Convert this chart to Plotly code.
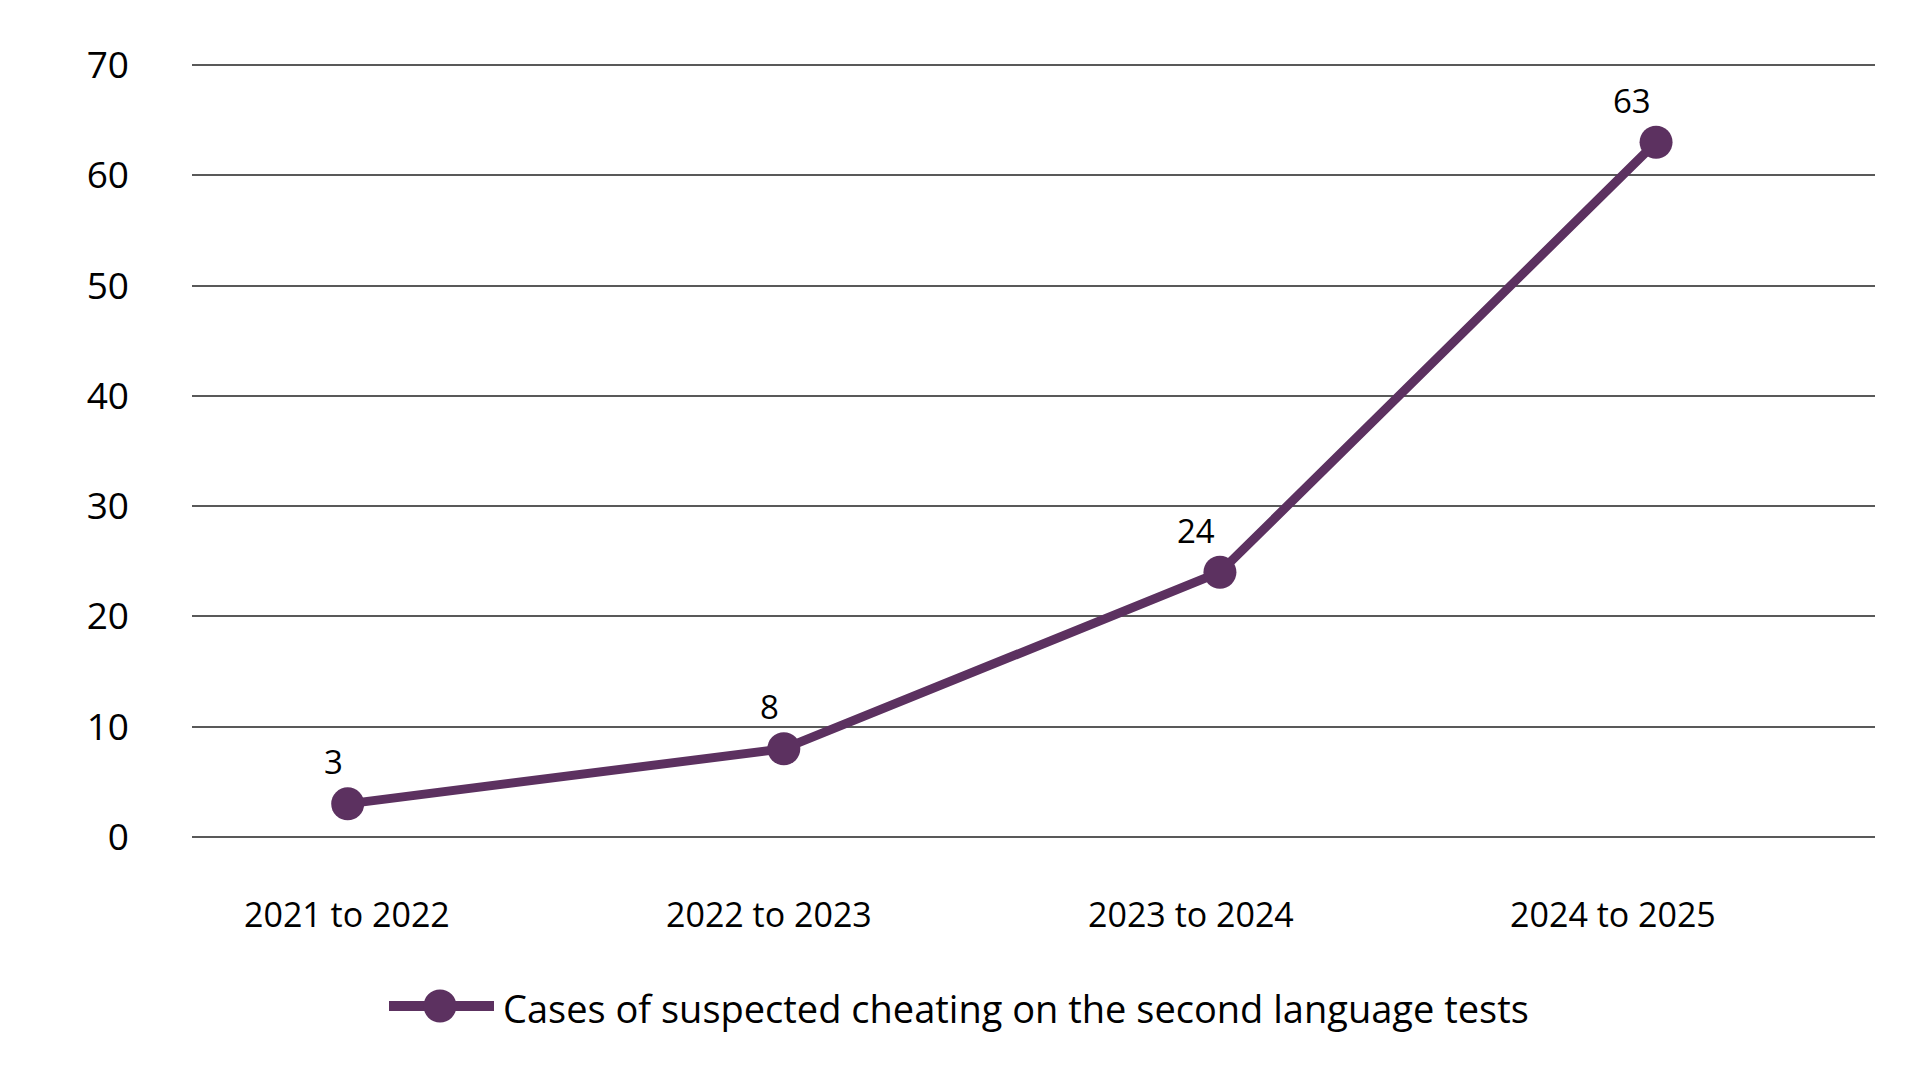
import plotly.graph_objects as go

periods = ["2021 to 2022", "2022 to 2023", "2023 to 2024", "2024 to 2025"]
cases = [3, 8, 24, 63]
series_name = "Cases of suspected cheating on the second language tests"
y_ticks = [0, 10, 20, 30, 40, 50, 60, 70]

PURPLE = "#5C3160"
GRID = "#595959"
FONT = "Open Sans"

# page body has an 8px margin; compensate so the plot area lands where intended
OFF = 8
W, H = 1920, 1080
PL, PR, PT, PB = 192, 1875, 43, 870   # desired plot-area edges on screen (px)
L = PL - OFF
R = W - PR + OFF
T = PT - OFF
B = H - (PB - OFF)
pw, ph = PR - PL, PB - PT

def px_x(px):
    return (px - PL) / pw

def px_y(py):
    return (PB - py) / ph

fig = go.Figure()
fig.add_trace(go.Scatter(
    x=periods, y=cases, mode="lines+markers", name=series_name,
    line=dict(color=PURPLE, width=9),
    marker=dict(color=PURPLE, size=33),
    showlegend=False,
))
# carrier trace for the category-label axis
fig.add_trace(go.Scatter(
    x=periods, y=cases, xaxis="x2", mode="none",
    showlegend=False, hoverinfo="skip",
))

for p, v in zip(periods, cases):
    fig.add_annotation(
        x=p, y=v, xref="x", yref="y", text=str(v), showarrow=False,
        xanchor="right", yanchor="middle", xshift=-3, yshift=42,
        font=dict(family=FONT, size=33, color="#000000"),
    )

# legend drawn manually
ly = 1006
fig.add_shape(type="line", xref="paper", yref="paper",
              x0=px_x(389), x1=px_x(494), y0=px_y(ly), y1=px_y(ly),
              line=dict(color=PURPLE, width=10))
r = 16.5
fig.add_shape(type="circle", xref="paper", yref="paper",
              x0=px_x(440 - r), x1=px_x(440 + r),
              y0=px_y(ly + r), y1=px_y(ly - r),
              fillcolor=PURPLE, line=dict(color=PURPLE, width=0))
fig.add_annotation(
    x=px_x(501), y=px_y(ly + 2), xref="paper", yref="paper",
    text=series_name, showarrow=False, xanchor="left", yanchor="middle",
    font=dict(family=FONT, size=38, color="#000000"),
)

fig.update_layout(
    width=W, height=H,
    margin=dict(l=L, r=R, t=T, b=B),
    paper_bgcolor="white", plot_bgcolor="white",
    font=dict(family=FONT, color="#000000"),
    showlegend=False,
    xaxis=dict(
        type="category", categoryarray=periods, range=[-0.357, 3.502],
        showgrid=False, zeroline=False, showline=False,
        showticklabels=False, ticks="",
    ),
    xaxis2=dict(
        type="category", categoryarray=periods, range=[-0.367, 3.621],
        overlaying="x", side="bottom", anchor="y",
        showgrid=False, zeroline=False, showline=False, ticks="",
        tickfont=dict(family=FONT, size=34, color="#000000"),
        ticklabelstandoff=22,
    ),
    yaxis=dict(
        range=[-3, 72], tickvals=y_ticks,
        showgrid=True, gridcolor=GRID, gridwidth=2,
        zeroline=False, showline=False, ticks="",
        tickfont=dict(family=FONT, size=37, color="#000000"),
        ticklabelstandoff=62,
    ),
)

fig.write_html("out.html")
